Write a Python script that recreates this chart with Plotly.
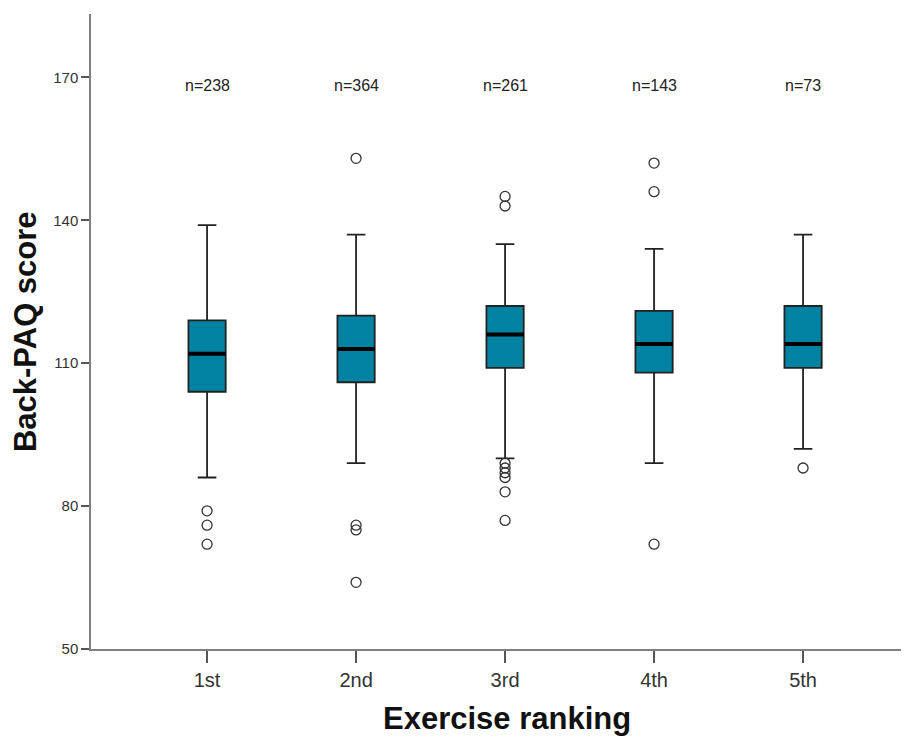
import plotly.graph_objects as go

categories = ["1st", "2nd", "3rd", "4th", "5th"]
counts = [238, 364, 261, 143, 73]
q1 = [104, 106, 109, 108, 109]
median = [112, 113, 116, 114, 114]
q3 = [119, 120, 122, 121, 122]
lower_whisker = [86, 89, 90, 89, 92]
upper_whisker = [139, 137, 135, 134, 137]
outliers = [
    [79, 76, 72],
    [153, 76, 75, 64],
    [145, 143, 89, 88, 87, 86, 83, 77],
    [152, 146, 72],
    [88],
]
y_ticks = [50, 80, 110, 140, 170]

BOX_W = 0.25
pos = list(range(len(categories)))

fig = go.Figure()
fig.add_trace(go.Box(
    x=pos, q1=q1, median=median, q3=q3,
    lowerfence=lower_whisker, upperfence=upper_whisker,
    width=BOX_W, whiskerwidth=0.5,
    fillcolor="#0083A3", line=dict(color="#222222", width=1.8),
    boxpoints=False, showlegend=False, hoverinfo="skip",
))

mx, my = [], []
for i, m in zip(pos, median):
    mx += [i - BOX_W / 2, i + BOX_W / 2, None]
    my += [m, m, None]
fig.add_trace(go.Scatter(x=mx, y=my, mode="lines",
                         line=dict(color="black", width=4), showlegend=False, hoverinfo="skip"))

ox, oy = [], []
for i, vals in zip(pos, outliers):
    ox += [i] * len(vals)
    oy += vals
fig.add_trace(go.Scatter(x=ox, y=oy, mode="markers",
                         marker=dict(symbol="circle-open", size=10, color="#333333",
                                     line=dict(width=1.3)),
                         showlegend=False, hoverinfo="skip"))

for i, n in zip(pos, counts):
    fig.add_annotation(x=i, y=168.2, text=f"n={n}", showarrow=False,
                       font=dict(family="Arial, Liberation Sans", size=16, color="#222222"))

fig.add_annotation(xref="paper", yref="paper", x=0.509, y=-0.079, yanchor="top",
                   text="<b>Exercise ranking</b>", showarrow=False,
                   font=dict(family="Arial, Liberation Sans", size=31, color="#111111"))
fig.add_annotation(xref="paper", yref="paper", x=-0.080, y=0.5, xanchor="center",
                   text="<b>Back-PAQ score</b>", textangle=-90, showarrow=False,
                   font=dict(family="Arial, Liberation Sans", size=31, color="#111111"))

fig.update_layout(
    width=901, height=729,
    margin=dict(l=83, r=0, t=6, b=88),
    plot_bgcolor="white", paper_bgcolor="white",
    font=dict(family="Arial, Liberation Sans", color="#222222"),
)
fig.update_xaxes(
    range=[-0.779, 4.711], tickvals=pos, ticktext=categories,
    showgrid=False, zeroline=False, showline=True, linecolor="#808080", linewidth=1.5,
    ticks="outside", ticklen=12, tickwidth=1.5, tickcolor="#555555",
    tickfont=dict(size=20, color="#333333"),
)
fig.update_yaxes(
    range=[50, 183.3], tickvals=y_ticks,
    showgrid=False, zeroline=False, showline=True, linecolor="#808080", linewidth=1.5,
    ticks="outside", ticklen=8, tickwidth=1.5, tickcolor="#555555",
    tickfont=dict(size=15, color="#333333"),
)

fig.write_html("out.html")
